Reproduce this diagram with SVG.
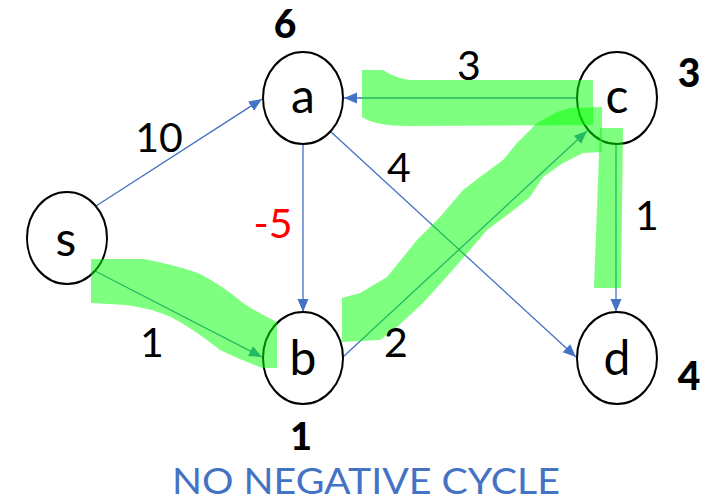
<svg xmlns="http://www.w3.org/2000/svg" width="705" height="502" viewBox="0 0 705 502">
<style>
.edge{stroke:#4472C4;stroke-width:1.3;fill:none;marker-end:url(#arr)}
.node ellipse{fill:#fff;stroke:#000;stroke-width:2}
.nl{font-family:Lato,"Liberation Sans",sans-serif;font-size:48px;text-anchor:middle;fill:#000}
.el{font-family:Lato,"Liberation Sans",sans-serif;font-size:41px;text-anchor:middle;fill:#000}
.dist{font-family:Lato,"Liberation Sans",sans-serif;font-size:39px;font-weight:900;text-anchor:middle;fill:#000}
.hl{fill:#00ff00;fill-opacity:0.5;stroke:none}
</style>
<defs>
<marker id="arr" markerUnits="userSpaceOnUse" markerWidth="14" markerHeight="12" refX="13" refY="5.5" orient="auto">
<path d="M0,0 L13,5.5 L0,11 z" fill="#4472C4"/>
</marker>
</defs>
<rect width="705" height="502" fill="#fff"/>
<g id="edges">
<line class="edge" x1="96" y1="206" x2="262" y2="99"/>
<line class="edge" x1="95" y1="271" x2="262" y2="357"/>
<line class="edge" x1="303" y1="144" x2="303" y2="312"/>
<line class="edge" x1="330" y1="131" x2="576" y2="357"/>
<line class="edge" x1="577" y1="98" x2="344" y2="98"/>
<line class="edge" x1="343" y1="357" x2="587" y2="131"/>
<line class="edge" x1="616" y1="144" x2="616" y2="312"/>
</g>
<g id="node-s" class="node"><ellipse cx="67" cy="238" rx="40" ry="46"/><text class="nl" x="66" y="256">s</text></g>
<g id="node-a" class="node"><ellipse cx="303" cy="98" rx="40" ry="46"/><text class="nl" x="303" y="113">a</text></g>
<g id="node-c" class="node"><ellipse cx="617" cy="98" rx="40" ry="46"/><text class="nl" x="617" y="113">c</text></g>
<g id="node-b" class="node"><ellipse cx="303" cy="358" rx="40" ry="46"/><text class="nl" x="303" y="375">b</text></g>
<g id="node-d" class="node"><ellipse cx="617" cy="358" rx="40" ry="46"/><text class="nl" x="617" y="375">d</text></g>
<g id="highlights">
<path class="hl" d="M362,70 L383,70 Q395,78 410,80 L593,80 L593,125 L409,126 Q375,126 362,117 Z"/>
<path class="hl" d="M342,298 L360,293 L387,277 L417,240 L440,217 L463,190 L480,177 L503,160 L517,143 L537,123 L557,112 L570,108 L602,107 L602,152 L583,153 L563,163 L543,177 L530,197 L510,213 L487,230 L470,250 L450,273 L423,303 L397,327 L380,340 L342,342 Z"/>
<path class="hl" d="M600,128 L623,128 L621,288 L594,288 Z"/>
<path class="hl" d="M91,259 L144,259 Q175,265 198,273 Q222,285 243,303 Q262,315 277,322 L277,368 L263,368 Q240,360 220,350 Q195,330 171,317 Q150,308 126,305 L91,303 Z"/>
</g>
<g id="labels">
<text class="el" x="159" y="152">10</text>
<text class="el" x="469" y="80">3</text>
<text class="el" x="399" y="182">4</text>
<text class="el" x="273" y="238" style="fill:#ff0000">-5</text>
<text class="el" x="647" y="230">1</text>
<text class="el" x="152" y="357">1</text>
<text class="el" x="396" y="357">2</text>
<text class="dist" x="285" y="38">6</text>
<text class="dist" x="689" y="87">3</text>
<text class="dist" x="689" y="390">4</text>
<text class="dist" x="301" y="450" style="font-size:38px">1</text>
<text x="366" y="494" font-family="Lato,'Liberation Sans',sans-serif" font-size="36" fill="#4472C4" text-anchor="middle" textLength="388" lengthAdjust="spacingAndGlyphs">NO NEGATIVE CYCLE</text>
</g>
</svg>
